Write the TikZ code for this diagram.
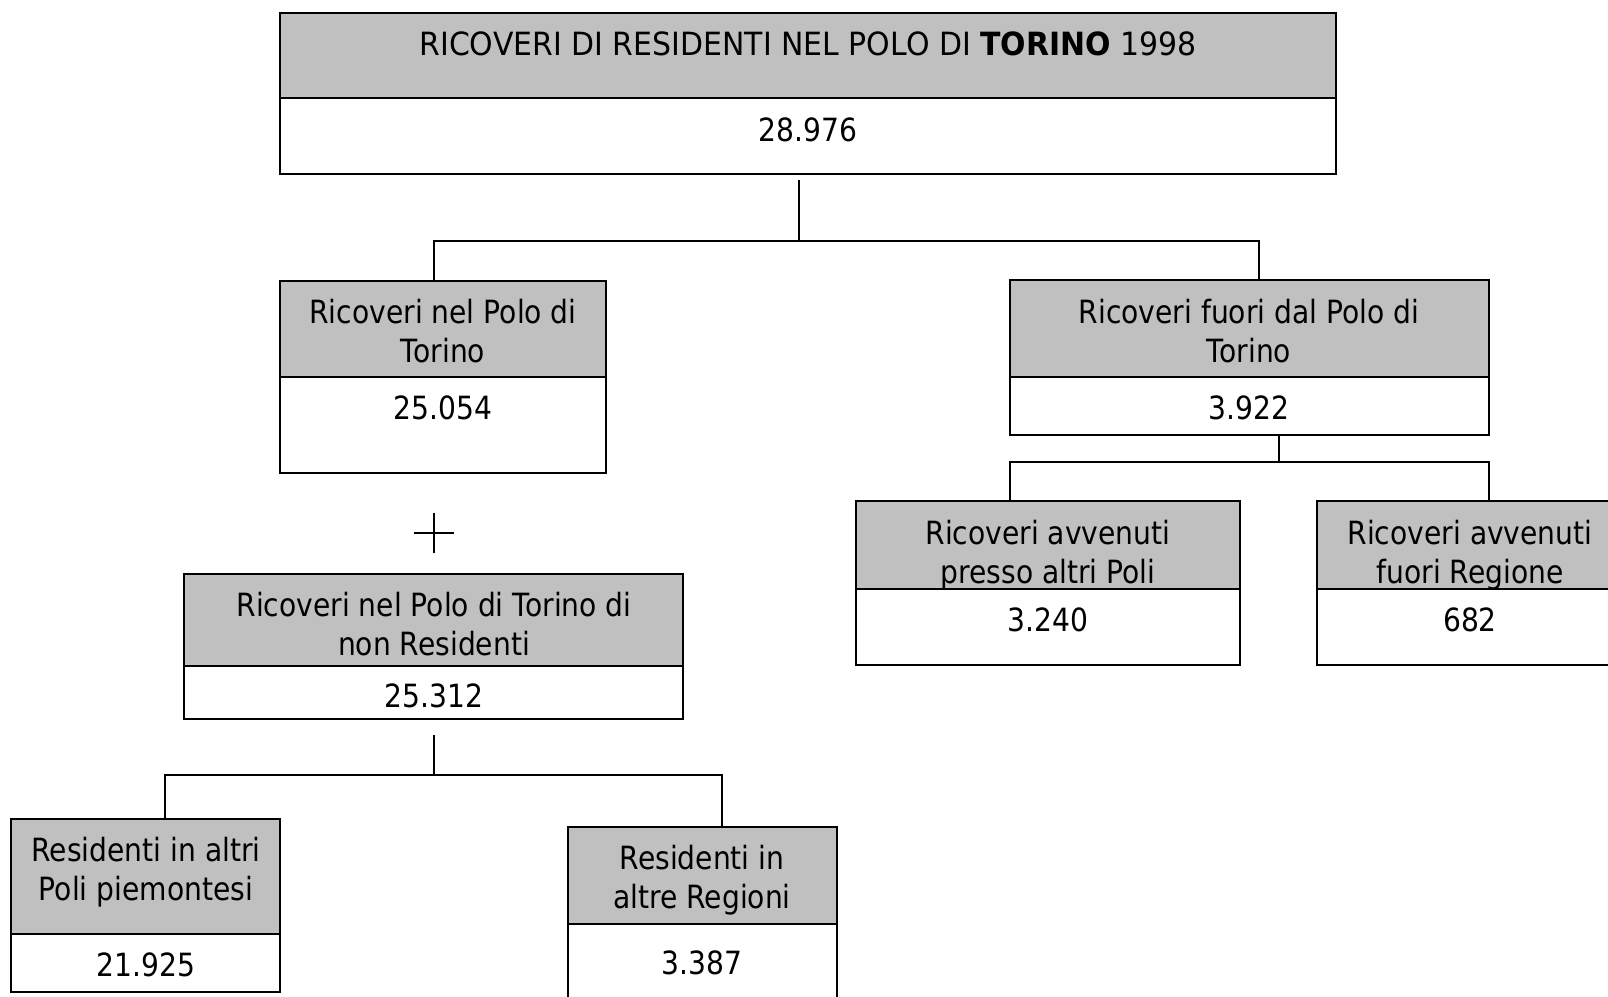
\documentclass[tikz,border=0pt]{standalone}
\usepackage{fontspec}
\setmainfont{DejaVu Sans}[FakeStretch=0.88]
\newfontfamily\titlefont{DejaVu Sans}[FakeStretch=0.935]
\definecolor{boxgray}{HTML}{C0C0C0}
\begin{document}
\begin{tikzpicture}[x=1pt,y=-1pt,
  part/.style={draw=black, line width=1.6pt, inner sep=0pt, outer sep=0pt, anchor=north west},
  hdr/.style={part, fill=boxgray},
  val/.style={part, fill=white},
  lbl/.style={font=\fontsize{32}{39}\selectfont, align=center, inner sep=0pt, text depth=0pt},
  conn/.style={line width=1.6pt}]
\useasboundingbox (0,0) rectangle (1608,996);
\fill[white] (0,0) rectangle (1608,996);
% top box
\node[hdr, minimum width=1056pt, minimum height=85pt] (Th) at (280,13) {};
\node[val, minimum width=1056pt, minimum height=76pt] (Tv) at (280,98) {};
\node[lbl, font=\titlefont\fontsize{32}{39}\selectfont] (Tt) at (808,44) {RICOVERI DI RESIDENTI NEL POLO DI \textbf{TORINO} 1998};
\node[lbl] (Tn) at (808,130) {28.976};
% box A
\node[hdr, minimum width=326pt, minimum height=96pt] (Ah) at (280,281) {};
\node[val, minimum width=326pt, minimum height=96pt] (Av) at (280,377) {};
\node[lbl] (At) at (443,331) {Ricoveri nel Polo di\\Torino};
\node[lbl] (An) at (443,408) {25.054};
% plus
\coordinate (plus) at (434,533);
\draw[conn] ([xshift=-20pt]plus) -- ([xshift=20pt]plus);
\draw[conn] ([yshift=-20pt]plus) -- ([yshift=20pt]plus);
% box B
\node[hdr, minimum width=499pt, minimum height=92pt] (Bh) at (184,574) {};
\node[val, minimum width=499pt, minimum height=53pt] (Bv) at (184,666) {};
\node[lbl] (Bt) at (434,624) {Ricoveri nel Polo di Torino di\\non Residenti};
\node[lbl] (Bn) at (434,696) {25.312};
% box C
\node[hdr, minimum width=269pt, minimum height=115pt] (Ch) at (11,819) {};
\node[val, minimum width=269pt, minimum height=58pt] (Cv) at (11,934) {};
\node[lbl] (Ct) at (146,869) {Residenti in altri\\Poli piemontesi};
\node[lbl] (Cn) at (146,965) {21.925};
% box D
\node[hdr, minimum width=269pt, minimum height=97pt] (Dh) at (568,827) {};
\node[val, minimum width=269pt, minimum height=90pt] (Dv) at (568,924) {};
\node[lbl] (Dt) at (702,877) {Residenti in\\altre Regioni};
\node[lbl] (Dn) at (702,963) {3.387};
% box E
\node[hdr, minimum width=479pt, minimum height=97pt] (Eh) at (1010,280) {};
\node[val, minimum width=479pt, minimum height=58pt] (Ev) at (1010,377) {};
\node[lbl] (Et) at (1249,331) {Ricoveri fuori dal Polo di\\Torino};
\node[lbl] (En) at (1249,408) {3.922};
% box F
\node[hdr, minimum width=384pt, minimum height=88pt] (Fh) at (856,501) {};
\node[val, minimum width=384pt, minimum height=76pt] (Fv) at (856,589) {};
\node[lbl] (Ft) at (1048,552) {Ricoveri avvenuti\\presso altri Poli};
\node[lbl] (Fn) at (1048,620) {3.240};
% box G
\node[hdr, minimum width=320pt, minimum height=88pt] (Gh) at (1317,501) {};
\node[val, minimum width=320pt, minimum height=76pt] (Gv) at (1317,589) {};
\node[lbl] (Gt) at (1470,552) {Ricoveri avvenuti\\fuori Regione};
\node[lbl] (Gn) at (1470,620) {682};
% connectors
\coordinate (j1) at (799,241);
\coordinate (j1t) at (799,180);
\draw[conn] (j1t) -- (j1);
\draw[conn] (Ah.north west -| 434,0) |- (j1) -| (Eh.north west -| 1259,0);
\coordinate (j2) at (434,775);
\coordinate (j2t) at (434,735);
\draw[conn] (j2t) -- (j2);
\draw[conn] (Ch.north west -| 165,0) |- (j2) -| (Dh.north west -| 722,0);
\coordinate (j3) at (1279,462);
\draw[conn] (Ev.south -| j3) -- (j3);
\draw[conn] (Fh.north west -| 1010,0) |- (j3) -| (Gh.north west -| 1489,0);
\end{tikzpicture}
\end{document}
